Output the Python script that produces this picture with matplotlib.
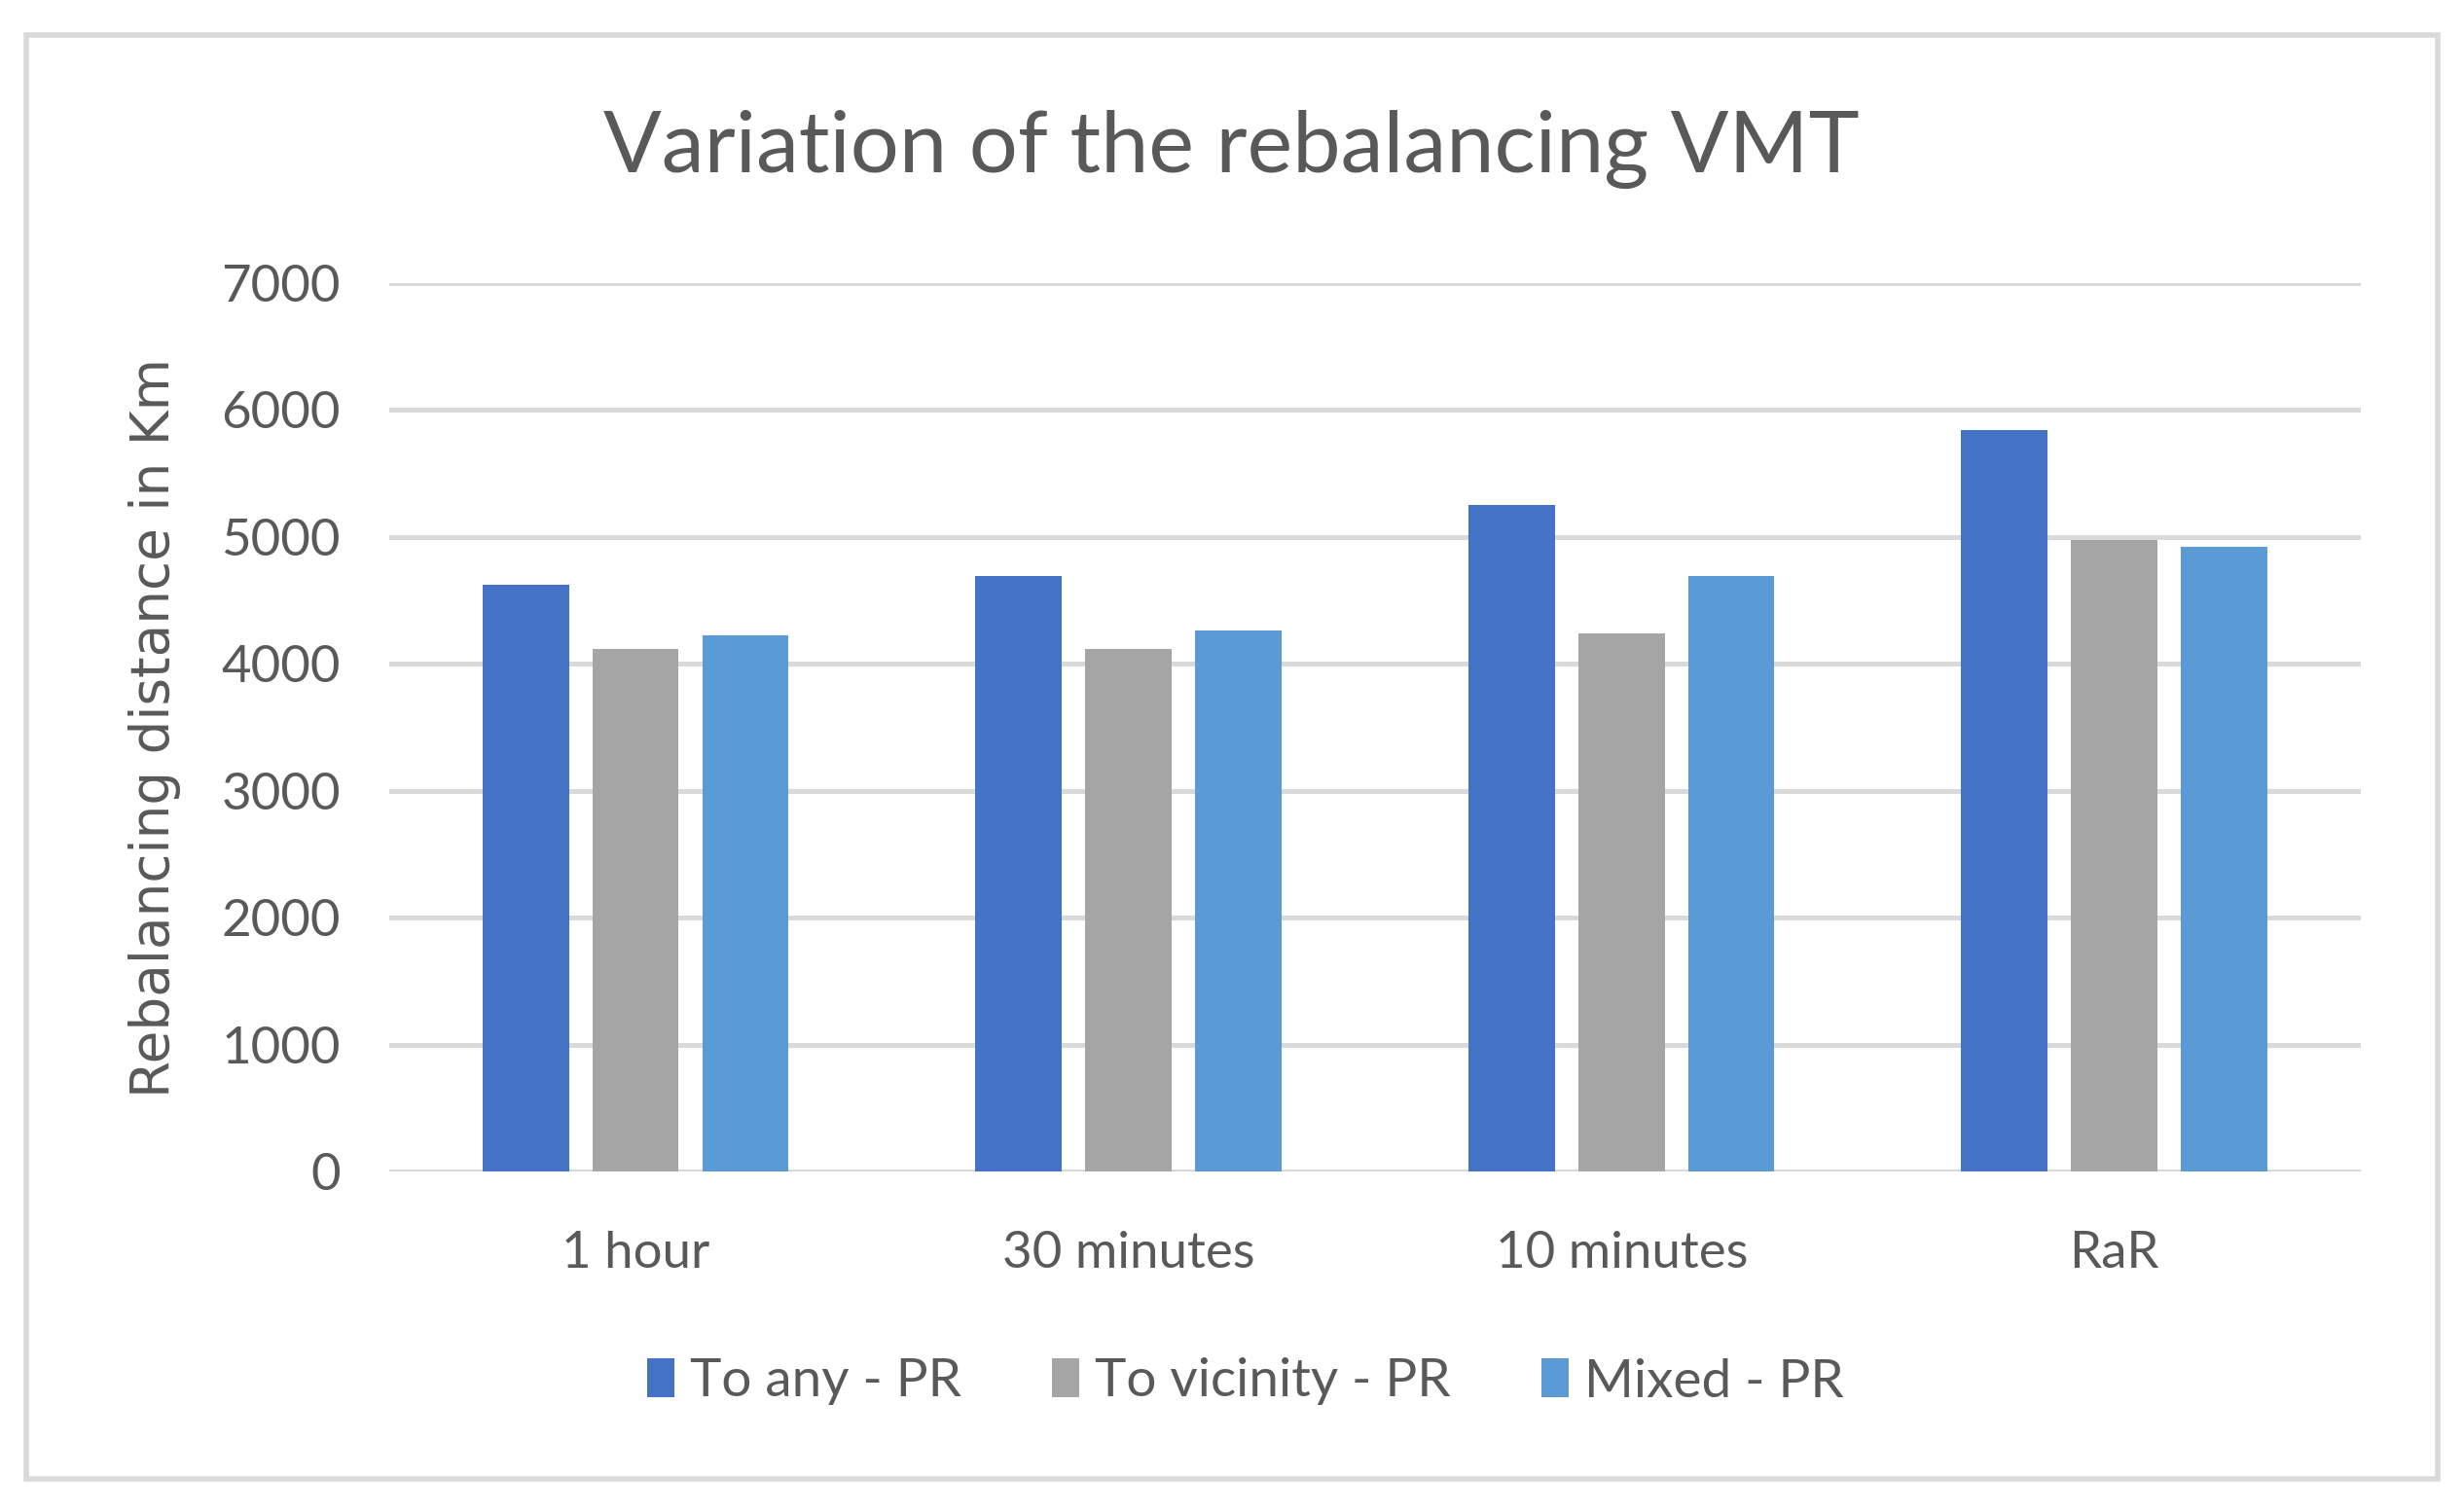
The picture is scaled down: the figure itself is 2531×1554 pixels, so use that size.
import numpy as np
import matplotlib.pyplot as plt
from matplotlib.patches import Rectangle

# Data
categories = ['1 hour', '30 minutes', '10 minutes', 'RaR']
series_names = ['To any - PR', 'To vicinity - PR', 'Mixed - PR']
to_any = [4625, 4690, 5255, 5845]
to_vicinity = [4120, 4115, 4240, 4980]
mixed = [4225, 4265, 4690, 4920]
colors = ['#4472C4', '#A5A5A5', '#5B9BD5']

plt.rcParams['font.family'] = ['Lato', 'DejaVu Sans']
txt_col = '#595959'

fig = plt.figure(figsize=(25.31, 15.54), dpi=100)
ax = fig.add_axes([0.158, 0.2252, 0.8005, 0.5875])

# outer frame like the Excel chart border
fig.patches.append(Rectangle((27 / 2531, 1 - 1520 / 1554), (2505 - 27) / 2531, (1520 - 36) / 1554,
                             transform=fig.transFigure, fill=False, edgecolor='#D9D9D9', linewidth=4))

x = np.arange(len(categories))
width = 0.175
step = 0.223
for i, (vals, name) in enumerate(zip([to_any, to_vicinity, mixed], series_names)):
    ax.bar(x + (i - 1) * step, vals, width, color=colors[i], label=name, zorder=3)

ax.set_xlim(-0.5, len(categories) - 0.5)
ax.set_ylim(0, 7000)
ax.set_yticks(range(0, 7001, 1000))
ax.grid(axis='y', color='#D9D9D9', linewidth=3.6, zorder=0)
ax.set_axisbelow(True)
for s in ax.spines.values():
    s.set_visible(False)
ax.tick_params(length=0, labelsize=38, labelcolor=txt_col)
ax.tick_params(axis='y', pad=36)
ax.tick_params(axis='x', pad=44)
ax.set_xticks(x)
ax.set_xticklabels(categories)

ax.set_ylabel('Rebalancing distance in Km', fontsize=39.5, color=txt_col, labelpad=30,
              family=['DejaVu Sans'])

fig.text(0.5, 1 - 153 / 1554, 'Variation of the rebalancing VMT', ha='center', va='center',
         fontsize=63.5, color=txt_col)

leg = fig.legend(loc='center', bbox_to_anchor=(1280 / 2531, 1 - 1420 / 1554), ncol=3,
                 frameon=False, fontsize=39.5, handlelength=0.5, handleheight=0.75,
                 handletextpad=0.3, columnspacing=1.7)
for t in leg.get_texts():
    t.set_color(txt_col)

fig.savefig('out.png', dpi=100, facecolor='white')
